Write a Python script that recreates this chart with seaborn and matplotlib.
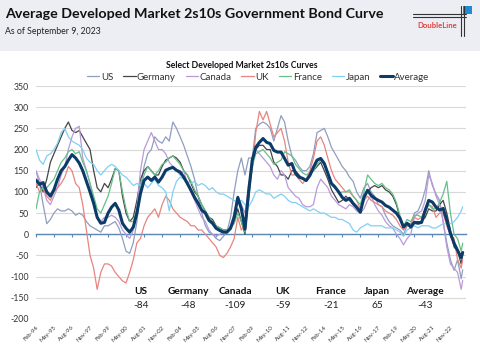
import numpy as np
import pandas as pd
import matplotlib
matplotlib.use("Agg")
import matplotlib.pyplot as plt
import matplotlib.dates as mdates
from matplotlib.lines import Line2D
from matplotlib.patches import Rectangle
import seaborn as sns

sns.set_theme(style="white")
plt.rcParams["font.family"] = ["Lato", "DejaVu Sans"]

# quarterly observations (Feb/May/Aug/Nov) from Feb-1994 to Aug-2023, plus the 9-Sep-2023 reading
dates = list(pd.date_range("1994-02-01", "2023-08-01", freq="3MS")) + [pd.Timestamp("2023-09-08")]

us = [150, 120, 70, 25,   35, 50, 60, 55,   55, 60, 55, 45,   50, 45, 30, 20,
      15, 10, 5, 20,      20, 25, 30, 15,   -10, -40, -45, -20, 30, 110, 160, 190,
      200, 230, 220, 215, 230, 220, 265, 250, 230, 210, 185, 160, 130, 90, 50, 20,
      5, 0, -10, -15,     -5, 5, 40, 100,   150, 180, 140, 180, 180, 250, 260, 265,
      260, 250, 220, 250, 280, 265, 220, 185, 175, 160, 150, 150, 160, 190, 240, 245,
      250, 230, 205, 190, 175, 160, 150, 135, 125, 100, 85, 110, 120, 100, 90, 70,
      65, 45, 30, 20,     15, 10, 0, 20,    20, 50, 55, 75,   105, 150, 115, 95,
      80, 30, -20, -60,   -85, -60, -105, -84]
germany = [110, 120, 100, 130, 170, 190, 210, 230, 250, 265, 245, 240, 245, 230, 215, 200,
           150, 110, 100, 120, 110, 130, 155, 150, 90, 50, 30, 40,   80, 130, 150, 160,
           150, 140, 140, 160, 175, 180, 185, 180, 170, 150, 140, 120, 100, 90, 70, 55,
           40, 35, 20, 15,     10, 10, 15, 30,   60, 30, 0, 90,    170, 200, 210, 210,
           200, 200, 170, 160, 140, 140, 130, 150, 150, 140, 130, 125, 140, 150, 160, 170,
           150, 130, 105, 90,  75, 80, 90, 80,   70, 60, 55, 90,   100, 110, 115, 110,
           115, 105, 100, 90,  70, 40, 20, 25,   25, 30, 30, 30,   40, 60, 55, 55,
           70, 80, 50, 10,     -30, -40, -70, -48]
canada = [150, 130, 110, 80,  70, 90, 110, 140,  160, 200, 230, 250, 255, 180, 150, 120,
          80, 40, 30, 40,     40, 45, 40, 30,    10, 0, -10, 10,    60, 150, 200, 220,
          240, 220, 200, 200, 190, 170, 160, 150, 140, 150, 120, 100, 80, 60, 40, 30,
          10, 0, -5, 0,       5, 10, 20, 50,     90, 70, 50, 110,   170, 200, 190, 180,
          170, 160, 140, 130, 150, 140, 110, 100, 90, 85, 70, 65,   65, 70, 110, 130,
          120, 110, 90, 80,   70, 65, 60, 70,    65, 55, 50, 60,    80, 90, 70, 55,
          45, 30, 20, 15,     0, -10, -25, -10,  0, 40, 50, 55,     80, 140, 120, 90,
          70, 30, -30, -70,   -80, -90, -130, -109]
uk = [120, 100, 110, 90,   80, 100, 110, 120,  135, 160, 150, 120, 110, 70, 10, -50,
      -80, -130, -90, -70, -70, -75, -90, -100, -110, -115, -90, -60, -20, -10, 20, 40,
      50, 60, 40, 70,      90, 80, 60, 50,     40, 35, 30, 20,    20, 10, 10, 0,
      -10, -20, -30, -50,  -55, -45, -30, -10, 40, 10, 20, 120,   150, 240, 290, 270,
      290, 260, 230, 240,  250, 220, 170, 140, 140, 130, 120, 130, 150, 180, 220, 230,
      210, 180, 150, 130,  120, 110, 100, 100, 90, 80, 60, 80,    90, 80, 75, 70,
      65, 55, 50, 45,      35, 20, 10, 20,     25, 40, 35, 40,    60, 70, 65, 40,
      50, 50, 20, 0,       -10, -60, -80, -59]
france = [60, 100, 110, 110,  120, 130, 150, 170, 180, 195, 200, 190, 195, 170, 150, 120,
          90, 60, 50, 70,     90, 120, 155, 150, 100, 60, 30, 30,   60, 110, 140, 160,
          150, 140, 150, 165, 170, 180, 185, 175, 165, 150, 140, 125, 105, 90, 70, 55,
          40, 30, 20, 15,     10, 10, 15, 25,   50, 30, 5, 80,     160, 190, 195, 200,
          190, 180, 165, 170, 175, 195, 190, 185, 165, 155, 145, 140, 145, 150, 165, 175,
          165, 145, 120, 115, 95, 100, 100, 105, 90, 80, 70, 100,   140, 130, 120, 115,
          120, 110, 105, 95,  75, 45, 20, 35,   30, 45, 45, 40,    50, 70, 60, 60,
          75, 95, 125, 50,    0, -10, -40, -21]
japan = [200, 175, 165, 185, 190, 200, 215, 240, 250, 230, 220, 215, 210, 200, 180, 170,
         165, 150, 140, 150, 160, 165, 160, 150, 140, 135, 125, 115, 120, 115, 120, 110,
         120, 130, 115, 110, 100, 55, 100, 125,  135, 130, 125, 120, 125, 115, 120, 115,
         105, 110, 100, 95,  95, 90, 85, 80,    75, 80, 70, 65,    80, 100, 105, 100,
         95, 95, 85, 90,     95, 90, 80, 75,    75, 70, 65, 60,    55, 60, 55, 50,
         50, 45, 40, 40,     35, 35, 30, 25,    10, 5, 15, 20,     25, 20, 20, 20,
         20, 15, 15, 15,     10, 5, -5, 10,     15, 20, 15, 20,    20, 20, 15, 15,
         20, 25, 25, 25,     30, 40, 55, 65]
average = [128, 118, 122, 100, 90, 105, 130, 150, 160, 175, 188, 180, 168, 150, 125, 100,
           73, 40, 26, 28,     50, 64, 73, 57,    26, 14, 5, 17,     50, 96, 127, 135,
           127, 135, 123, 135, 151, 155, 158, 151, 147, 135, 120, 104, 87, 73, 57, 50,
           33, 26, 14, 9,      5, 5, 14, 40,      87, 60, 12, 100,   175, 205, 217, 226,
           217, 214, 198, 194, 194, 179, 163, 167, 144, 135, 132, 127, 139, 158, 175, 179,
           167, 144, 120, 111, 100, 87, 80, 85,   73, 64, 52, 87,    104, 92, 85, 80,
           76, 68, 64, 57,     50, 38, 17, 26,    17, 28, 26, 28,    57, 80, 76, 64,
           57, 61, 33, 2,      -21, -38, -55, -43]

series_names = ["US", "Germany", "Canada", "UK", "France", "Japan", "Average"]
series_vals = [us, germany, canada, uk, france, japan, average]
colors = ["#8F9DBF", "#454545", "#B99AD9", "#E8847E", "#66BF88", "#80D0F4", "#0B3B69"]
widths = [0.9, 0.9, 0.9, 0.9, 0.9, 0.9, 2.2]

tick_dates = pd.date_range("1994-02-01", "2022-11-01", freq="15MS")
tick_labels = [d.strftime("%b-%y") for d in tick_dates]

fig = plt.figure(figsize=(4.8, 3.5), dpi=100)
fig.patch.set_facecolor("white")
fig.patches.append(Rectangle((0, 1 - 51 / 350), 1, 51 / 350, transform=fig.transFigure,
                             facecolor="#ECEEF3", edgecolor="none", zorder=0))
fig.text(5 / 480, 1 - 14 / 350, "Average Developed Market 2s10s Government Bond Curve",
         fontsize=10.3, weight="bold", va="center", ha="left", color="#111111")
fig.text(5 / 480, 1 - 31 / 350, "As of September 9, 2023", fontsize=6.3,
         va="center", ha="left", color="#222222")

# logo
for yy in (14, 17):
    fig.add_artist(Line2D([413 / 480, 466 / 480], [1 - yy / 350] * 2, color="#333333", lw=0.8))
for xx in (461, 464):
    fig.add_artist(Line2D([xx / 480] * 2, [1 - 6 / 350, 1 - 36 / 350], color="#333333", lw=0.8))
fig.patches.append(Rectangle((463 / 480, 1 - 14 / 350), 9 / 480, 8 / 350,
                             transform=fig.transFigure, facecolor="#1F8AD6", edgecolor="none"))
fig.text(437 / 480, 1 - 25 / 350, "DoubleLine", fontsize=5.6, weight="bold",
         color="#E5403A", ha="center", va="center")

ax = fig.add_axes([36 / 480, 1 - 319 / 350, 430 / 480, 233 / 350])
for name, vals, c, lw in zip(series_names, series_vals, colors, widths):
    sns.lineplot(x=dates, y=vals, ax=ax, color=c, linewidth=lw, legend=False, zorder=3)

ax.set_xlim(pd.Timestamp("1994-02-01"), pd.Timestamp("2023-12-01"))
ax.set_ylim(-200, 350)
ax.set_yticks(range(-200, 351, 50))
ax.set_yticklabels([str(v) for v in range(-200, 351, 50)])
ax.tick_params(axis="y", labelsize=6.3, labelcolor="#333333", length=0, pad=5)
ax.yaxis.grid(True, color="#D9D9D9", lw=0.8)
ax.xaxis.grid(False)
for s in ["top", "right", "left"]:
    ax.spines[s].set_visible(False)
ax.spines["bottom"].set_position(("data", 0))
ax.spines["bottom"].set_color("#5B87B3")
ax.spines["bottom"].set_linewidth(1.0)
ax.spines["bottom"].set_zorder(2)
ax.set_xticks(tick_dates)
ax.tick_params(axis="x", direction="out", length=2.5, width=0.8, color="#5B87B3",
               labelbottom=False, bottom=True)
ax.set_xlabel("")
ax.set_ylabel("")

sec = ax.secondary_xaxis(0)
sec.set_xticks(mdates.date2num(tick_dates))
sec.set_xticklabels(tick_labels, rotation=45, ha="right", rotation_mode="anchor",
                    fontsize=4.3, color="#333333")
sec.tick_params(length=0, pad=4)
sec.spines["bottom"].set_visible(False)

# legend
handles = [Line2D([], [], color=c, lw=lw) for c, lw in zip(colors, widths)]
fig.legend(handles, series_names, loc="center", bbox_to_anchor=(258 / 480, 1 - 77 / 350),
           ncol=7, frameon=False, fontsize=7, handlelength=1.3, handletextpad=0.15,
           columnspacing=1.0, labelcolor="#333333")
fig.text(242 / 480, 1 - 65 / 350, "Select Developed Market 2s10s Curves", fontsize=6.2,
         weight="bold", ha="center", va="center", color="#111111")

# latest-value table
centers = [141, 188, 235, 283, 331, 377, 425]
for name, vals, cx in zip(series_names, series_vals, centers):
    fig.text(cx / 480, 1 - 291 / 350, name, fontsize=7.3, weight="bold", ha="center",
             va="center", color="#111111")
    fig.text(cx / 480, 1 - 306 / 350, f"{vals[-1]}", fontsize=7.3, ha="center",
             va="center", color="#222222")

fig.savefig("out.png", dpi=100)
